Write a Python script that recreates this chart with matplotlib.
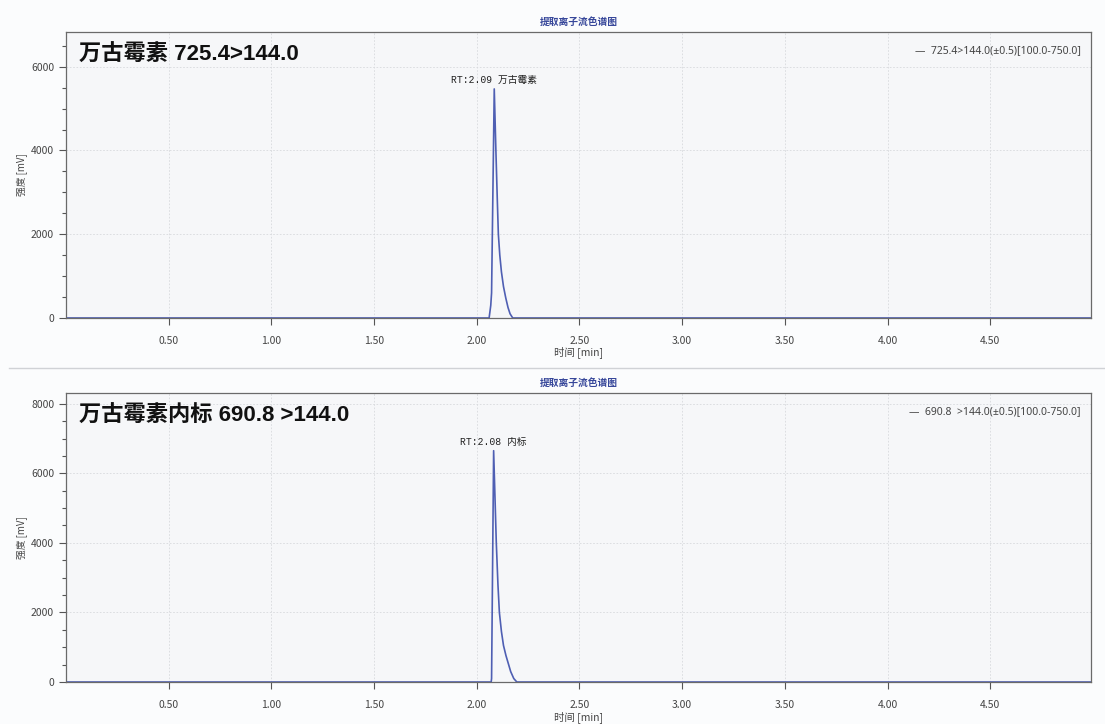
"""提取离子流色谱图：万古霉素与内标（两幅）。"""
import matplotlib
matplotlib.use("Agg")
import matplotlib.pyplot as plt
from matplotlib.lines import Line2D
from matplotlib.ticker import MultipleLocator, FormatStrFormatter

# 万古霉素 725.4>144.0
time_a = [0.0, 2.060, 2.068, 2.072, 2.085, 2.093, 2.100, 2.105, 2.112, 2.120,
          2.130, 2.141, 2.152, 2.162, 2.175, 4.99]
inten_a = [0, 0, 300, 600, 5470, 4000, 2800, 2000, 1500, 1100,
           750, 480, 250, 100, 0, 0]

# 万古霉素内标 690.8 >144.0
time_b = [0.0, 2.070, 2.072, 2.082, 2.095, 2.103, 2.110, 2.120, 2.130, 2.142,
          2.154, 2.165, 2.180, 2.195, 4.99]
inten_b = [0, 0, 100, 6650, 4000, 2800, 2000, 1450, 1050, 760,
           520, 300, 100, 0, 0]

rt_a, rt_b = 2.09, 2.08
peak_a, peak_b = 5470, 6650
ymax_a, ymax_b = 6830, 8310

title = "提取离子流色谱图"
name_a = "万古霉素 725.4>144.0"
name_b = "万古霉素内标 690.8 >144.0"
legend_a = "—  725.4>144.0(±0.5)[100.0-750.0]"
legend_b = "—  690.8  >144.0(±0.5)[100.0-750.0]"
label_a = "RT:2.09 万古霉素"
label_b = "RT:2.08 内标"

CJK = ["Noto Sans CJK SC", "DejaVu Sans"]
BOLD = ["Liberation Sans", "Noto Sans CJK SC"]
MONO = ["Liberation Mono", "Noto Sans CJK SC"]
LINE_COLOR = "#4f5fb3"

plt.rcParams["font.family"] = CJK


def draw_panel(fig, rect, t, y, ymax, peak_t, peak_y, name, legend, label):
    """画一个色谱图面板。"""
    ax = fig.add_axes(rect)
    ax.set_facecolor("#f6f7f9")
    ax.plot(t, y, color=LINE_COLOR, lw=1.2)
    ax.set_xlim(0, 4.99)
    ax.set_ylim(0, ymax)

    ax.xaxis.set_major_locator(MultipleLocator(0.5))
    ax.xaxis.set_major_formatter(FormatStrFormatter("%.2f"))
    ax.yaxis.set_major_locator(MultipleLocator(2000))
    ax.yaxis.set_minor_locator(MultipleLocator(500))
    ax.set_xticks([v for v in ax.get_xticks() if 0 < v < 4.99])

    ax.tick_params(axis="both", which="major", labelsize=7.5, colors="#555555",
                   labelcolor="#444444", length=5, width=0.8)
    ax.tick_params(axis="y", which="minor", length=3, width=0.8, colors="#555555")
    ax.tick_params(axis="x", pad=8)
    for s in ax.spines.values():
        s.set_color("#6a6a6a")
        s.set_linewidth(0.9)

    ax.grid(True, which="major", linestyle=(0, (2, 2)), linewidth=0.6, color="#d8dadd")
    ax.set_axisbelow(True)

    ax.set_xlabel("时间 [min]", fontsize=7.5, color="#444444", labelpad=1)
    ax.xaxis.set_label_coords(0.5, -0.1)
    ax.set_ylabel("强度 [mV]", fontsize=7, color="#444444")
    ax.yaxis.set_label_coords(-0.037, 0.5)

    ax.set_title(title, fontsize=7, fontweight="bold", color="#37479a", pad=5)

    ax.text(0.013, 0.955, name, transform=ax.transAxes, fontsize=16,
            fontweight="bold", family=BOLD, va="top", ha="left", color="#111111")
    ax.text(0.99, 0.955, legend, transform=ax.transAxes, fontsize=7.5,
            va="top", ha="right", color="#444444", family=["Noto Sans", "DejaVu Sans"])
    ax.annotate(label, (peak_t, peak_y), xytext=(0, 3), textcoords="offset points",
                ha="center", va="bottom", fontsize=7, family=MONO, color="#222222")
    return ax


def main() -> None:
    """主程序：两个面板 + 分隔线。"""
    fig = plt.figure(figsize=(11.05, 7.24), dpi=100, facecolor="#fbfcfd")
    draw_panel(fig, [0.0597, 0.5608, 0.9276, 0.3950], time_a, inten_a, ymax_a,
               rt_a - 0.005, peak_a, name_a, legend_a, label_a)
    draw_panel(fig, [0.0597, 0.0580, 0.9276, 0.3992], time_b, inten_b, ymax_b,
               rt_b, peak_b, name_b, legend_b, label_b)
    fig.add_artist(Line2D([0.008, 1.0], [0.492, 0.492], transform=fig.transFigure,
                          color="#d0d2d6", lw=1))
    fig.savefig("out.png", dpi=100, facecolor=fig.get_facecolor())


if __name__ == "__main__":
    main()
